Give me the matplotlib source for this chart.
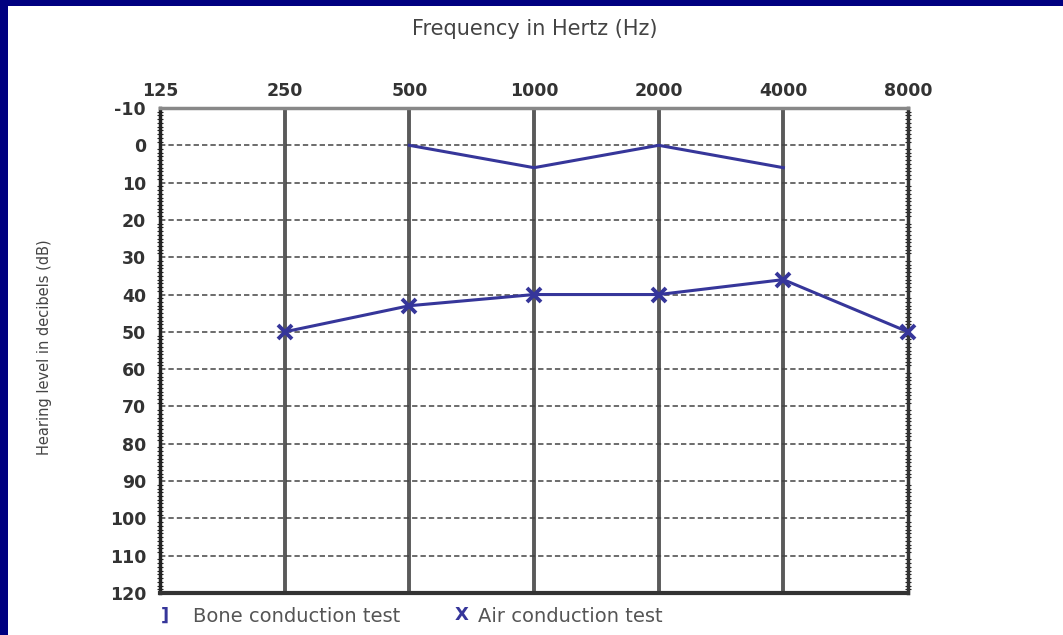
import matplotlib.pyplot as plt
from matplotlib.patches import Rectangle
from matplotlib.ticker import MultipleLocator

freqs = ['125', '250', '500', '1000', '2000', '4000', '8000']
levels = [-10, 0, 10, 20, 30, 40, 50, 60, 70, 80, 90, 100, 110, 120]

bone_freqs = ['500', '1000', '2000', '4000']
bone_db = [0, 6, 0, 6]

air_freqs = ['250', '500', '1000', '2000', '4000', '8000']
air_db = [50, 43, 40, 40, 36, 50]

blue = '#36369a'
W, H = 1063, 635

fig = plt.figure(figsize=(W / 100, H / 100), dpi=100, facecolor='#000080')
fig.patches.append(Rectangle((8 / W, 0), 1, 1 - 6 / H, transform=fig.transFigure,
                             facecolor='white', edgecolor='none', zorder=-10))

ax = fig.add_axes([160 / W, 1 - 593 / H, (908 - 160) / W, (593 - 108) / H])
ax.set_zorder(2)
ax.set_facecolor('white')

xpos = {f: i for i, f in enumerate(freqs)}

# grid
for i in range(1, len(freqs) - 1):
    ax.axvline(i, color='#5a5a5a', lw=2.8, zorder=1)
for lv in levels[1:-1]:
    ax.axhline(lv, color='#444444', lw=1.1, ls=(0, (3.5, 2)), zorder=1)

ax.plot([xpos[f] for f in bone_freqs], bone_db, color=blue, lw=2.2, zorder=3)
ax.plot([xpos[f] for f in air_freqs], air_db, color=blue, lw=2.2, marker='x',
        ms=10, mew=2.8, zorder=3, clip_on=False)

ax.set_xlim(0, len(freqs) - 1)
ax.set_ylim(120, -10)

ax.xaxis.tick_top()
ax.set_xticks(range(len(freqs)))
ax.set_xticklabels(freqs, fontsize=12.5, fontweight='bold', color='#333333')
ax.tick_params(axis='x', length=0, pad=6)

ax.set_yticks(levels)
ax.set_yticklabels([str(v) for v in levels], fontsize=12.5, fontweight='bold', color='#333333')
ax.yaxis.set_minor_locator(MultipleLocator(1))
ax.tick_params(axis='y', which='major', length=0, pad=10)
ax.tick_params(axis='y', which='minor', direction='inout', length=5, width=0.8,
               color='#222222', left=True, right=True)

ax.spines['top'].set_color('#888888')
ax.spines['top'].set_linewidth(2.5)
ax.spines['bottom'].set_color('#333333')
ax.spines['bottom'].set_linewidth(3)
ax.spines['left'].set_color('#222222')
ax.spines['left'].set_linewidth(2.5)
ax.spines['right'].set_color('#333333')
ax.spines['right'].set_linewidth(2.5)

fig.text(535 / W, 1 - 29 / H, 'Frequency in Hertz (Hz)', ha='center', va='center',
         fontsize=15, color='#444444')
fig.text(45 / W, 1 - 347 / H, 'Hearing level in decibels (dB)', ha='center', va='center',
         rotation=90, fontsize=10.5, color='#444444')

fig.text(165 / W, 1 - 616 / H, ']', ha='center', va='center', fontsize=13,
         fontweight='bold', color=blue)
fig.text(193 / W, 1 - 616 / H, 'Bone conduction test', ha='left', va='center',
         fontsize=14, color='#555555')
fig.text(462 / W, 1 - 615 / H, 'X', ha='center', va='center', fontsize=13,
         fontweight='bold', color=blue)
fig.text(478 / W, 1 - 616 / H, 'Air conduction test', ha='left', va='center',
         fontsize=14, color='#555555')

fig.savefig('out.png', dpi=100, facecolor=fig.get_facecolor())
